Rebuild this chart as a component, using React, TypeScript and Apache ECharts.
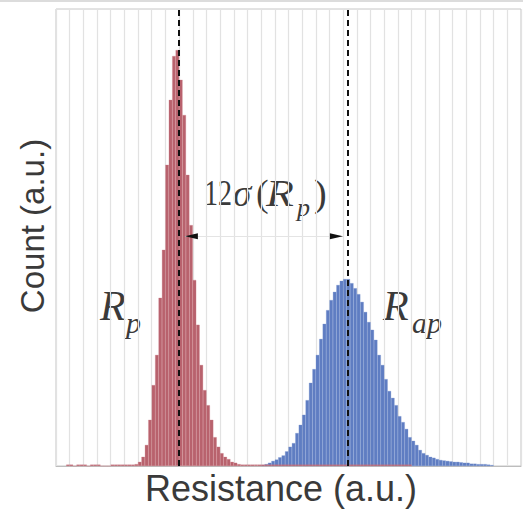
import React, { useEffect, useRef } from "react";
import * as echarts from "echarts";

// Histogram bins (0.25 units wide)
const binWidth = 0.25;
const redFirstBin = 0.875;
const redCounts = [
  0.3, 0.3, 0, 0.3, 0.3, 0.3, 0, 0.3, 0.3, 0.3, 0, 0, 0, 0.3, 0.3, 0.3, 0.3, 0.3, 0.3, 0.3,
  0.4, 0.9, 2.0, 4.6, 10.1, 17.7, 24.3, 36.8, 47.3, 65.9, 80.1, 89.7, 91.0, 84.5, 76.8, 63.7,
  52.7, 40.7, 30.9, 22.1, 16.6, 13.3, 10.1, 6.3, 4.2, 2.8, 2.0, 1.5, 0.9, 0.7, 0.4, 0.3,
  0.3, 0.3, 0.3, 0.3, 0.3, 0.3, 0.3, 0.3, 0.3, 0.3, 0.3, 0.3, 0.3, 0.3, 0.3, 0.3, 0.3, 0.3,
  0.3, 0.3, 0.3, 0.3, 0.3, 0.3, 0.3, 0.3, 0.3, 0.3, 0.3, 0.3, 0.3, 0.3, 0.3, 0.3, 0.3, 0.3,
  0.3, 0.3, 0.3, 0.3, 0.3, 0.3, 0.3, 0.3, 0.3, 0.3, 0.3, 0.3, 0.3,
];
const blueFirstBin = 15.125;
const blueCounts = [
  0.2, 0.4, 0.7, 1.1, 1.4, 1.9, 2.3, 3.2, 4.2, 5.0, 7.2, 9.0, 11.2, 14.4, 18.2, 21.2, 24.3,
  27.8, 31.1, 34.1, 36.3, 38.1, 39.6, 40.5, 40.9, 40.9, 40.0, 38.9, 37.6, 35.9, 33.7, 31.5,
  29.8, 27.6, 24.3, 22.1, 19.0, 16.4, 14.9, 13.3, 10.9, 9.6, 8.1, 6.3, 5.5, 4.6, 3.5, 2.8,
  2.4, 2.0, 1.8, 1.5, 1.3, 1.2, 1.1, 1.0, 0.9, 0.9, 0.8, 0.7, 0.7, 0.5, 0.5, 0.4, 0.4, 0.4,
  0.3, 0.2,
];
const meanRp = 8.94;
const meanRap = 21.32;
const arrowY = 50.3;
const arrowFrom = 9.43;
const arrowTo = 20.98;
const arrowHeadL = 9.9;
const arrowHeadR = 20.5;

const xMin = 0;
const xMax = 34;
const yMax = 100;

const toPairs = (first: number, counts: number[]) =>
  counts.map((c, i) => [first + i * binWidth, c]);

export default function App() {
  const ref = useRef<HTMLDivElement>(null);
  useEffect(() => {
    document.body.style.margin = "0";
    const chart = echarts.init(ref.current!, undefined, { renderer: "svg" });
    const serif = "'Liberation Serif', 'DejaVu Serif', serif";
    const sans = "'Liberation Sans', Arial, sans-serif";
    const txt = "#3a3a3a";
    chart.setOption({
      animation: false,
      backgroundColor: "#ffffff",
      grid: {
        left: 56,
        right: 2,
        top: 9,
        bottom: 46,
        show: true,
        borderColor: "#c6c6c6",
        borderWidth: 1,
      },
      xAxis: {
        type: "value",
        min: xMin,
        max: xMax,
        interval: 1,
        axisLabel: { show: false },
        axisTick: { show: false },
        axisLine: { show: true, lineStyle: { color: "#bdbdbd", width: 1 } },
        splitLine: { show: true, lineStyle: { color: "#e2e2e2", width: 1.2 } },
      },
      yAxis: {
        type: "value",
        min: 0,
        max: yMax,
        axisLabel: { show: false },
        axisTick: { show: false },
        axisLine: { show: false },
        splitLine: { show: false },
      },
      series: [
        {
          type: "bar",
          name: "Rap",
          data: toPairs(blueFirstBin, blueCounts),
          barWidth: "100%",
          barGap: "-100%",
          itemStyle: { color: "#5f7dc2", borderColor: "#7f99d4", borderWidth: 0.3 },
          markLine: {
            silent: true,
            symbol: "none",
            label: { show: false },
            lineStyle: { color: "#111", width: 2, type: [6, 4] },
            data: [{ xAxis: meanRap }],
          },
        },
        {
          type: "bar",
          name: "Rp",
          data: toPairs(redFirstBin, redCounts),
          barWidth: "100%",
          barGap: "-100%",
          itemStyle: { color: "#b8626d", borderColor: "#d0818b", borderWidth: 0.3 },
          markLine: {
            silent: true,
            symbol: "none",
            label: { show: false },
            data: [
              { xAxis: meanRp, lineStyle: { color: "#111", width: 2, type: [6, 4] } },
              [
                { coord: [arrowFrom, arrowY], lineStyle: { color: "#e4e4e4", width: 1, type: "solid" } },
                { coord: [arrowTo, arrowY] },
              ],
            ],
          },
          markPoint: {
            silent: true,
            symbol: "triangle",
            symbolSize: [6, 13],
            label: { show: false },
            itemStyle: { color: "#111" },
            data: [
              { coord: [arrowHeadL, arrowY], symbolRotate: 90 },
              { coord: [arrowHeadR, arrowY], symbolRotate: -90 },
            ],
          },
        },
      ],
      graphic: [
        { type: "line", shape: { x1: 0, y1: 1, x2: 523, y2: 1 }, style: { stroke: "#dcdcdc", lineWidth: 2 } },
        {
          type: "text",
          x: 32,
          y: 226,
          rotation: Math.PI / 2,
          style: { text: "Count (a.u.)", font: `33px ${sans}`, fill: txt, align: "center", verticalAlign: "middle" },
        },
        {
          type: "text",
          x: 281,
          y: 488,
          style: { text: "Resistance (a.u.)", font: `36px ${sans}`, fill: txt, align: "center", verticalAlign: "middle" },
        },
        // 12σ(Rp)
        { type: "text", x: 204, y: 193, scaleX: 0.8, style: { text: "12", font: `35px ${serif}`, fill: txt, verticalAlign: "middle" } },
        { type: "text", x: 233, y: 193, style: { text: "σ", font: `italic 37px ${serif}`, fill: txt, verticalAlign: "middle" } },
        { type: "text", x: 256, y: 193, style: { text: "(", font: `38px ${serif}`, fill: txt, verticalAlign: "middle" } },
        { type: "text", x: 266, y: 193, scaleX: 1.2, style: { text: "R", font: `italic 38px ${serif}`, fill: txt, verticalAlign: "middle" } },
        { type: "text", x: 297, y: 207, style: { text: "p", font: `italic 26px ${serif}`, fill: txt, verticalAlign: "middle" } },
        { type: "text", x: 314, y: 193, style: { text: ")", font: `38px ${serif}`, fill: txt, verticalAlign: "middle" } },
        // Rp label
        { type: "text", x: 100, y: 306, style: { text: "R", font: `italic 42px ${serif}`, fill: txt, verticalAlign: "middle" } },
        { type: "text", x: 126, y: 322, style: { text: "p", font: `italic 30px ${serif}`, fill: txt, verticalAlign: "middle" } },
        // Rap label
        { type: "text", x: 383, y: 306, style: { text: "R", font: `italic 42px ${serif}`, fill: txt, verticalAlign: "middle" } },
        { type: "text", x: 412, y: 322, style: { text: "ap", font: `italic 30px ${serif}`, fill: txt, verticalAlign: "middle" } },
      ],
    });
    return () => chart.dispose();
  }, []);
  return <div ref={ref} style={{ width: 523, height: 512 }} />;
}
